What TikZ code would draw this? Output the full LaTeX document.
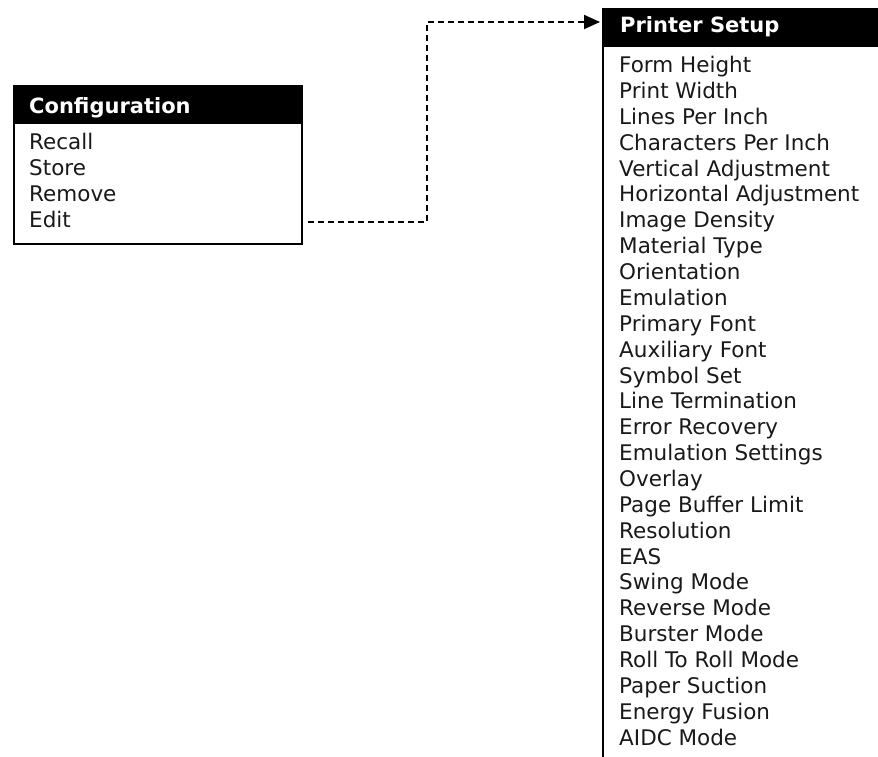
\documentclass[tikz,border=0pt]{standalone}
\usepackage{fontspec}
\setmainfont{DejaVu Sans}
\usetikzlibrary{arrows.meta}
\begin{document}
\begin{tikzpicture}[x=1pt,y=1pt,
  hdr/.style={fill=black,draw=black,line width=1pt,inner sep=0pt,anchor=north west},
  frame/.style={draw=black,line width=2pt,inner sep=0pt,anchor=north west},
  ttl/.style={anchor=base west,inner sep=0pt,text=white,font=\fontsize{21}{25}\selectfont\bfseries},
  itm/.style={anchor=base west,inner sep=0pt,text=black!90,font=\fontsize{21.5}{25}\selectfont},
  conn/.style={dash pattern=on 6pt off 4pt,line width=2pt,-{Triangle[length=16pt,width=14pt]}}]
\useasboundingbox (0,0) rectangle (878,757);

% Configuration menu
\node[frame,minimum width=288pt,minimum height=158pt] (cfg) at (13,672) {};
\node[hdr,minimum width=288pt,minimum height=38pt] (cfghdr) at (13,672) {};
\node[ttl] (cfgttl) at (29,643) {Configuration};
\foreach \t [count=\i] in {Recall,Store,Remove,Edit}
  \node[itm] (c\i) at (29,{607-25.7*(\i-1)}) {\t};

% Printer Setup menu
\node[hdr,minimum width=275pt,minimum height=38pt] (pshdr) at (603,749) {};
\coordinate (psbot) at (603,0);
\draw[line width=2pt] (pshdr.north west) -- (psbot);
\node[ttl] (psttl) at (620,724) {Printer Setup};
\foreach \t [count=\i] in {Form Height,Print Width,Lines Per Inch,Characters Per Inch,
  Vertical Adjustment,Horizontal Adjustment,Image Density,Material Type,Orientation,
  Emulation,Primary Font,Auxiliary Font,Symbol Set,Line Termination,Error Recovery,
  Emulation Settings,Overlay,Page Buffer Limit,Resolution,EAS,Swing Mode,Reverse Mode,
  Burster Mode,Roll To Roll Mode,Paper Suction,Energy Fusion,AIDC Mode}
  \node[itm] (p\i) at (619,{684.3-25.86*(\i-1)}) {\t};

% connector
\coordinate (start) at ([xshift=5pt]cfg.east |- 0,535);
\coordinate (bend) at (427,535);
\draw[conn] (start) -- (bend) |- ([xshift=-3pt]pshdr.north west |- 0,735);
\end{tikzpicture}
\end{document}
